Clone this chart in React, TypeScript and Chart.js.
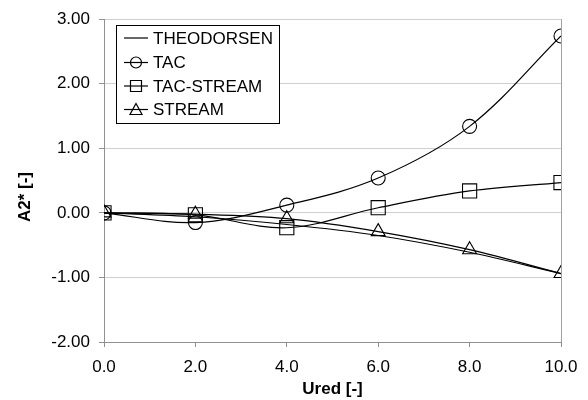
import React, { useEffect, useRef } from "react";
import { Chart, registerables } from "chart.js";

Chart.register(...registerables);

const uredValues = [0, 2, 4, 6, 8, 10];
const theodorsen = [0, -0.06, -0.18, -0.35, -0.61, -0.94];
const tac = [0, -0.15, 0.12, 0.54, 1.34, 2.74];
const tacStream = [0, -0.03, -0.23, 0.08, 0.34, 0.47];
const stream = [0, -0.02, -0.09, -0.29, -0.57, -0.94];
const seriesLabels = ["THEODORSEN", "TAC", "TAC-STREAM", "STREAM"];
const xTitle = "Ured [-]";
const yTitle = "A2* [-]";

const FONT = "'Liberation Sans', Arial, sans-serif";

const pts = (ys: number[]) => uredValues.map((x, i) => ({ x, y: ys[i] }));

const legendPlugin = {
  id: "boxLegend",
  afterDraw(chart: any) {
    const ctx = chart.ctx;
    ctx.save();
    const bx = 116, by = 25, bw = 163, bh = 98;
    ctx.fillStyle = "#fff";
    ctx.fillRect(bx, by, bw, bh);
    ctx.strokeStyle = "#000";
    ctx.lineWidth = 1;
    ctx.strokeRect(bx + 0.5, by + 0.5, bw, bh);
    const rows = [38, 62.5, 86, 109.5];
    chart.data.datasets.forEach((ds: any, i: number) => {
      const y = rows[i];
      ctx.strokeStyle = "#000";
      ctx.lineWidth = 1.2;
      ctx.beginPath();
      ctx.moveTo(124, y);
      ctx.lineTo(148, y);
      ctx.stroke();
      const style = ds.pointStyle;
      const r = 5.5;
      const cx = 136;
      ctx.beginPath();
      if (i > 0) {
        if (style === "circle") {
          ctx.arc(cx, y, r, 0, Math.PI * 2);
        } else if (style === "rect") {
          ctx.rect(cx - r, y - r, 2 * r, 2 * r);
        } else if (style === "triangle") {
          ctx.moveTo(cx, y - r - 0.5);
          ctx.lineTo(cx + r + 0.5, y + r - 0.5);
          ctx.lineTo(cx - r - 0.5, y + r - 0.5);
          ctx.closePath();
        }
        ctx.stroke();
      }
      ctx.fillStyle = "#000";
      ctx.font = `17px ${FONT}`;
      ctx.textBaseline = "middle";
      ctx.textAlign = "left";
      ctx.fillText(ds.label, 153, y + 1);
    });
    ctx.restore();
  },
};

const framePlugin = {
  id: "frame",
  beforeDatasetsDraw(chart: any) {
    const { ctx, chartArea } = chart;
    ctx.save();
    ctx.strokeStyle = "#a0a0a0";
    ctx.lineWidth = 1;
    ctx.beginPath();
    ctx.moveTo(chartArea.right + 0.5, chartArea.top);
    ctx.lineTo(chartArea.right + 0.5, chartArea.bottom);
    ctx.stroke();
    ctx.restore();
  },
  afterDraw(chart: any) {
    const { ctx, chartArea } = chart;
    ctx.save();
    ctx.translate(25, 197);
    ctx.rotate(-Math.PI / 2);
    ctx.fillStyle = "#000";
    ctx.font = `bold 17px ${FONT}`;
    ctx.textAlign = "center";
    ctx.textBaseline = "middle";
    ctx.fillText(yTitle, 0, 0);
    ctx.restore();
  },
};

export default function App() {
  const ref = useRef<HTMLCanvasElement | null>(null);
  useEffect(() => {
    document.body.style.margin = "0";
    const canvas = ref.current!;
    const mk = (label: string, ys: number[], style: any, radius: number) => ({
      label,
      data: pts(ys),
      borderColor: "#000",
      borderWidth: 1.2,
      backgroundColor: "rgba(0,0,0,0)",
      pointStyle: style,
      pointRadius: radius,
      pointBorderWidth: 1.1,
      pointBorderColor: "#000",
      pointBackgroundColor: "rgba(0,0,0,0)",
      tension: 0.35,
      fill: false,
    });
    const chart = new Chart(canvas, {
      type: "line",
      data: {
        datasets: [
          mk(seriesLabels[0], theodorsen, false, 0),
          mk(seriesLabels[1], tac, "circle", 7),
          mk(seriesLabels[2], tacStream, "rect", 10),
          mk(seriesLabels[3], stream, "triangle", 8),
        ],
      },
      options: {
        animation: false,
        responsive: false,
        maintainAspectRatio: false,
        layout: { padding: { top: 17, right: 27, left: 0, bottom: 0 } },
        plugins: { legend: { display: false }, tooltip: { enabled: false } },
        scales: {
          x: {
            type: "linear",
            min: 0,
            max: 10,
            afterFit: (s: any) => {
              s.height = 58;
            },
            ticks: {
              stepSize: 2,
              color: "#000",
              padding: 10,
              font: { family: FONT, size: 17 },
              callback: (v: any) => Number(v).toFixed(1),
            },
            grid: {
              drawOnChartArea: false,
              drawTicks: true,
              tickLength: 5,
              tickColor: "#909090",
            },
            border: { color: "#909090", width: 1 },
            title: {
              display: true,
              text: xTitle,
              color: "#000",
              font: { family: FONT, size: 17, weight: "bold" },
              padding: { top: 2, bottom: 0 },
            },
          },
          y: {
            min: -2,
            max: 3,
            afterFit: (s: any) => {
              s.width = 104;
            },
            ticks: {
              stepSize: 1,
              color: "#000",
              padding: 9,
              font: { family: FONT, size: 17 },
              callback: (v: any) => Number(v).toFixed(2),
            },
            grid: {
              color: "#cfcfcf",
              lineWidth: 1,
              drawTicks: true,
              tickLength: 5,
              tickColor: "#909090",
            },
            border: { color: "#909090", width: 1 },
          },
        },
      },
      plugins: [framePlugin, legendPlugin],
    } as any);
    return () => chart.destroy();
  }, []);
  return (
    <div style={{ position: "absolute", left: 0, top: 0, width: 588, height: 400, background: "#fff" }}>
      <canvas ref={ref} width={588} height={400} style={{ width: 588, height: 400 }} />
    </div>
  );
}
